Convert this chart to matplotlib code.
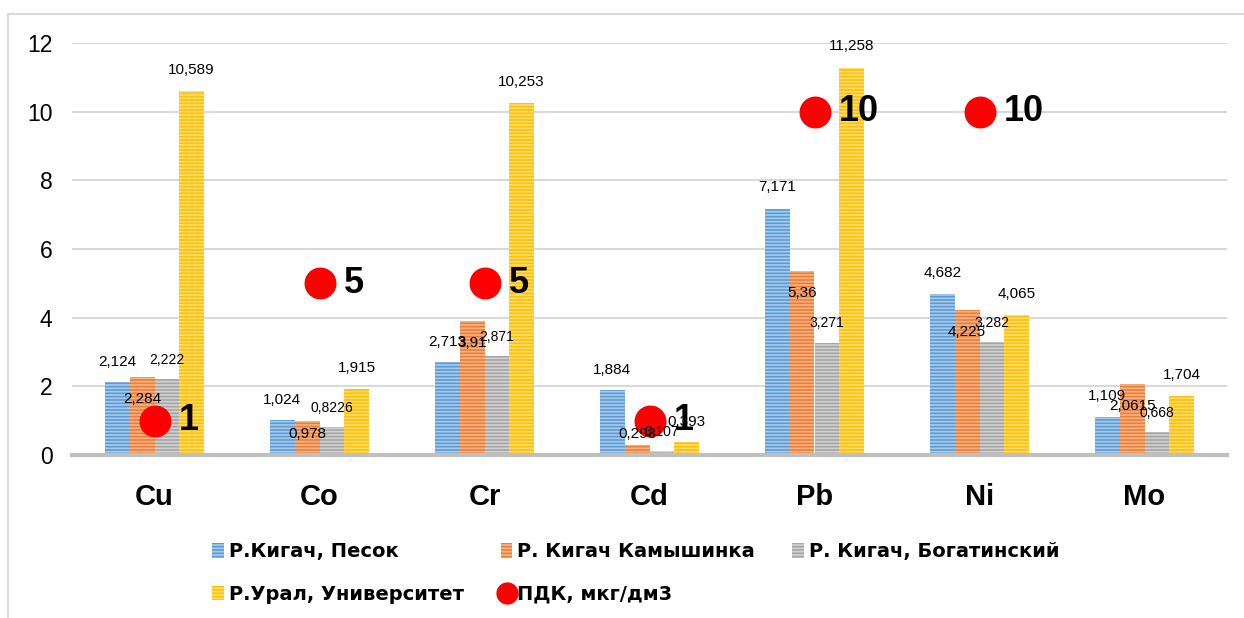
import numpy as np
import matplotlib
matplotlib.use("Agg")
import matplotlib.pyplot as plt
from matplotlib.patches import Patch
from matplotlib.lines import Line2D

plt.rcParams['font.family'] = ['Liberation Sans', 'DejaVu Sans']
plt.rcParams['hatch.linewidth'] = 1.2

# Данные
elements = ['Cu', 'Co', 'Cr', 'Cd', 'Pb', 'Ni', 'Mo']
series_names = ['Р.Кигач, Песок', 'Р. Кигач Камышинка',
                'Р. Кигач, Богатинский', 'Р.Урал, Университет']
pesok = [2.124, 1.024, 2.713, 1.884, 7.171, 4.682, 1.109]
kamyshinka = [2.284, 0.978, 3.91, 0.298, 5.36, 4.225, 2.0615]
bogatinsky = [2.222, 0.8226, 2.871, 0.107, 3.271, 3.282, 0.668]
ural = [10.589, 1.915, 10.253, 0.393, 11.258, 4.065, 1.704]
pdk = [1, 5, 5, 1, 10, 10, np.nan]
pdk_name = 'ПДК, мкг/дм3'

# Оформление
colors = ['#5B9BD5', '#ED7D31', '#A5A5A5', '#FFC000']
stripes = ['#A9CBEB', '#F5B58C', '#D2D2D2', '#FFDD73']
label_size = [11, 11, 10, 11]
# смещение подписей (пиксели) относительно верха столбца
label_dy = [
    [20, 20, 20, 20, 22, 21, 21],
    [-22, -13, -22, 11, -22, -22, -22],
    [19, 19, 19, 19, 20, 19, 19],
    [21, 21, 21, 20, 22, 21, 21],
]

fig = plt.figure(figsize=(12.44, 6.18), dpi=100)
ax = fig.add_axes([72 / 1244, 1 - 455 / 618, 1155 / 1244, 412 / 618])

x = np.arange(len(elements))
w = 0.15
data = [pesok, kamyshinka, bogatinsky, ural]
for i, vals in enumerate(data):
    pos = x + (i - 1.5) * w
    ax.bar(pos, vals, w, color=colors[i], edgecolor=stripes[i], linewidth=0,
           hatch='-----', zorder=2)
    for j, v in enumerate(vals):
        ax.annotate(str(v).replace('.', ','), (pos[j], v),
                    xytext=(0, label_dy[i][j]), textcoords='offset pixels',
                    ha='center', va='center', fontsize=label_size[i],
                    color='black', zorder=4)

# ПДК
ax.plot(x, pdk, 'o', color='#FF0000', markersize=22, zorder=3)
for j, v in enumerate(pdk):
    if not np.isnan(v):
        ax.annotate(str(v), (x[j], v), xytext=(24, 0),
                    textcoords='offset pixels', ha='left', va='center',
                    fontsize=26, fontweight='bold', zorder=5)

ax.set_xlim(-0.5, len(elements) - 0.5)
ax.set_ylim(0, 12)
ax.set_yticks(range(0, 13, 2))
ax.set_xticks(x)
ax.set_xticklabels(elements, fontsize=21, fontweight='bold')
ax.tick_params(axis='x', length=0, pad=20)
ax.tick_params(axis='y', length=0, pad=14, labelsize=16.5)
ax.grid(axis='y', color='#D9D9D9', linewidth=1.5, zorder=0)
ax.set_axisbelow(True)
for s in ['top', 'right', 'left']:
    ax.spines[s].set_visible(False)
ax.spines['bottom'].set_color('#BFBFBF')
ax.spines['bottom'].set_linewidth(3)
ax.spines['bottom'].set_zorder(3)

# Легенда
handles = [Patch(facecolor=colors[i], edgecolor=stripes[i], linewidth=0,
                 hatch='-----', label=series_names[i]) for i in range(4)]
dot = Line2D([], [], marker='o', color='#FF0000', linestyle='none',
             markersize=15, label=pdk_name)
order = [handles[0], handles[3], handles[1], dot, handles[2]]
fig.legend(handles=order, labels=[h.get_label() for h in order],
           loc='center', bbox_to_anchor=(0.511, 1 - 573 / 618), ncol=3,
           frameon=False,
           prop={'size': 14, 'weight': 'bold', 'family': 'DejaVu Sans'},
           handlelength=0.6, handleheight=0.75, handletextpad=0.25,
           columnspacing=1.9, labelspacing=1.2)

# рамка
fig.add_artist(Line2D([8 / 1244, 1], [1 - 14 / 618, 1 - 14 / 618],
                      color='#D9D9D9', linewidth=1.5))
fig.add_artist(Line2D([8 / 1244, 8 / 1244], [0, 1 - 14 / 618],
                      color='#D9D9D9', linewidth=1.5))

fig.savefig('out.png', dpi=100)
